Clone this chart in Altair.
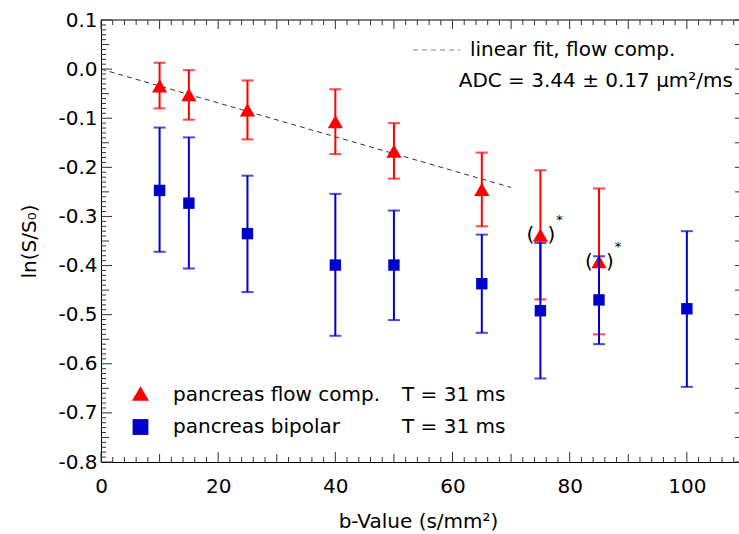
import altair as alt
import pandas as pd

# ---------------- data ----------------
b_flow = [10, 15, 25, 40, 50, 65, 75, 85]
flow_mean = [-0.034, -0.052, -0.083, -0.107, -0.167, -0.245, -0.338, -0.392]
flow_hi = [0.013, -0.002, -0.023, -0.041, -0.110, -0.170, -0.206, -0.243]
flow_lo = [-0.080, -0.103, -0.143, -0.173, -0.223, -0.320, -0.469, -0.540]

b_bip = [10, 15, 25, 40, 50, 65, 75, 85, 100]
bip_mean = [-0.247, -0.273, -0.335, -0.399, -0.399, -0.437, -0.492, -0.470, -0.488]
bip_hi = [-0.119, -0.139, -0.217, -0.254, -0.288, -0.337, -0.354, -0.381, -0.330]
bip_lo = [-0.372, -0.406, -0.454, -0.543, -0.511, -0.537, -0.630, -0.560, -0.647]

fit_b = [0, 70]
fit_v = [0.0, -0.241]

starred_b = [75, 85]
starred_v = [-0.338, -0.392]

x_labels = [0, 20, 40, 60, 80, 100]
y_labels = [-0.8, -0.7, -0.6, -0.5, -0.4, -0.3, -0.2, -0.1, 0.0, 0.1]
x_ticks = list(range(0, 109, 2))
y_ticks = [round(-0.8 + i * 0.01, 2) for i in range(91)]

# ---------------- styles ----------------
FONT = "DejaVu Sans"
RED = "#FF0000"
BLUE = "#0000CC"
TICK = "#333333"
W, H = 638, 442

xs = alt.Scale(domain=[0, 108.9], nice=False, zero=False)
ys = alt.Scale(domain=[-0.8, 0.1], nice=False, zero=False)

x_axis = alt.Axis(values=x_labels, ticks=False, tickSize=0, grid=False,
                  domainColor="black", domainWidth=1,
                  labelFont=FONT, labelFontSize=20, labelColor="black",
                  labelPadding=14, labelFlush=False,
                  title="b-Value (s/mm²)", titleFont=FONT, titleFontSize=20,
                  titleFontWeight="normal", titleColor="black",
                  titleX=317, titleY=59,
                  titleBaseline="middle", titleAlign="center")
y_axis = alt.Axis(values=y_labels, ticks=False, tickSize=0, grid=False,
                  domainColor="black", domainWidth=1,
                  labelFont=FONT, labelFontSize=20, labelColor="black",
                  labelPadding=4, labelFlush=False,
                  labelExpr="datum.value < -0.001 ? '-' + format(-datum.value, '.1f') : format(abs(datum.value), '.1f')",
                  title="ln(S/S₀)", titleFont=FONT, titleFontSize=20,
                  titleFontWeight="normal", titleColor="black",
                  titleAngle=270, titleX=-72, titleY=H / 2,
                  titleBaseline="middle", titleAlign="center")


def X(f):
    return alt.X(f"{f}:Q", scale=xs, axis=x_axis)


def Y(f):
    return alt.Y(f"{f}:Q", scale=ys, axis=y_axis)


def Y2(f):
    return alt.Y2(f"{f}:Q")


one = pd.DataFrame({"a": [0]})

layers = []

# ---- top frame line ----
layers.append(alt.Chart(one).mark_rule(color="black", strokeWidth=1).encode(
    x=alt.value(0), x2=alt.value(W), y=alt.value(0)))

# ---- inward ticks ----
def xrule(vals, y0, y1):
    return alt.Chart(pd.DataFrame({"b": vals})).mark_rule(color=TICK, strokeWidth=1).encode(
        x=X("b"), y=alt.value(y0), y2=alt.value(y1))


def yrule(vals, x0, x1):
    return alt.Chart(pd.DataFrame({"v": vals})).mark_rule(color=TICK, strokeWidth=1).encode(
        y=Y("v"), x=alt.value(x0), x2=alt.value(x1))


xb20 = [t for t in x_ticks if t % 20 == 0]
xb10 = [t for t in x_ticks if t % 10 == 0 and t % 20 != 0]
xmin = [t for t in x_ticks if t % 10 != 0]
x10 = [t for t in x_ticks if t % 10 == 0]
layers += [xrule(xb20, H, H - 10), xrule(xb10, H, H - 8), xrule(xmin, H, H - 5),
           xrule(x10, 0, 9), xrule(xmin, 0, 5)]

ycent = [round(v * 100) for v in y_ticks]
y10 = [v for v, c in zip(y_ticks, ycent) if c % 10 == 0]
y5 = [v for v, c in zip(y_ticks, ycent) if c % 5 == 0 and c % 10 != 0]
y1 = [v for v, c in zip(y_ticks, ycent) if c % 5 != 0]
layers += [yrule(y10, 0, 11), yrule(y5, 0, 8), yrule(y1, 0, 5),
           yrule(y10 + y5, W, W - 4)]

# ---- fit line ----
fit_df = pd.DataFrame({"b": fit_b, "v": fit_v})
layers.append(alt.Chart(fit_df).mark_line(color="#333333", strokeWidth=1, strokeDash=[5, 4]).encode(
    x=X("b"), y=Y("v")))

# ---- flow comp. series ----
flow_df = pd.DataFrame({"b": b_flow, "v": flow_mean, "hi": flow_hi, "lo": flow_lo})
layers.append(alt.Chart(flow_df).mark_rule(color=RED, strokeWidth=2).encode(
    x=X("b"), y=Y("lo"), y2=Y2("hi")))
layers.append(alt.Chart(flow_df).mark_tick(color=RED, orient="horizontal", size=12, thickness=2).encode(
    x=X("b"), y=Y("hi")))
layers.append(alt.Chart(flow_df).mark_tick(color=RED, orient="horizontal", size=12, thickness=2).encode(
    x=X("b"), y=Y("lo")))
layers.append(alt.Chart(flow_df).mark_point(shape="triangle-up", filled=True, color=RED, size=230, opacity=1).encode(
    x=X("b"), y=Y("v")))

# ---- bipolar series ----
bip_df = pd.DataFrame({"b": b_bip, "v": bip_mean, "hi": bip_hi, "lo": bip_lo})
layers.append(alt.Chart(bip_df).mark_rule(color=BLUE, strokeWidth=2).encode(
    x=X("b"), y=Y("lo"), y2=Y2("hi")))
layers.append(alt.Chart(bip_df).mark_tick(color=BLUE, orient="horizontal", size=12, thickness=2).encode(
    x=X("b"), y=Y("hi")))
layers.append(alt.Chart(bip_df).mark_tick(color=BLUE, orient="horizontal", size=12, thickness=2).encode(
    x=X("b"), y=Y("lo")))
layers.append(alt.Chart(bip_df).mark_point(shape="square", filled=True, color=BLUE, size=130, opacity=1).encode(
    x=X("b"), y=Y("v")))

# ---- "( )*" annotations ----
star_df = pd.DataFrame({"b": starred_b, "v": starred_v})
layers.append(alt.Chart(star_df).mark_text(text="(", font=FONT, fontSize=20, color="black",
                                           dx=-10, baseline="middle").encode(x=X("b"), y=Y("v")))
layers.append(alt.Chart(star_df).mark_text(text=")", font=FONT, fontSize=20, color="black",
                                           dx=11, baseline="middle").encode(x=X("b"), y=Y("v")))
layers.append(alt.Chart(star_df).mark_text(text="*", font=FONT, fontSize=13, color="black",
                                           dx=19, dy=-15, baseline="middle").encode(x=X("b"), y=Y("v")))

# ---- upper-right legend ----
layers.append(alt.Chart(one).mark_rule(color="#808080", strokeWidth=1, strokeDash=[5, 4]).encode(
    x=alt.value(312), x2=alt.value(359), y=alt.value(30)))
layers.append(alt.Chart(one).mark_text(text="linear fit, flow comp.", font=FONT, fontSize=20, color="black",
                                       align="left", baseline="middle").encode(
    x=alt.value(369), y=alt.value(30)))
layers.append(alt.Chart(one).mark_text(text="ADC = 3.44 ± 0.17 μm²/ms", font=FONT, fontSize=20, color="black",
                                       align="right", baseline="middle").encode(
    x=alt.value(632), y=alt.value(61)))

# ---- lower-left legend ----
layers.append(alt.Chart(one).mark_point(shape="triangle-up", filled=True, color=RED, size=290, opacity=1).encode(
    x=alt.value(39.5), y=alt.value(373.5)))
layers.append(alt.Chart(one).mark_point(shape="square", filled=True, color=BLUE, size=250, opacity=1).encode(
    x=alt.value(39.5), y=alt.value(407)))
for txt, px, py in [("pancreas flow comp.", 72, 375), ("T = 31 ms", 301, 375),
                    ("pancreas bipolar", 72, 407), ("T = 31 ms", 301, 407)]:
    layers.append(alt.Chart(one).mark_text(text=txt, font=FONT, fontSize=20, color="black",
                                           align="left", baseline="middle").encode(
        x=alt.value(px), y=alt.value(py)))

chart = alt.layer(*layers).properties(
    width=W, height=H,
    autosize=alt.AutoSizeParams(type="none"),
    padding={"left": 101, "top": 20, "right": 0, "bottom": 72},
    background="white",
).configure_view(stroke=None)

chart.save("out.html", embed_options={"renderer": "svg", "actions": False})
